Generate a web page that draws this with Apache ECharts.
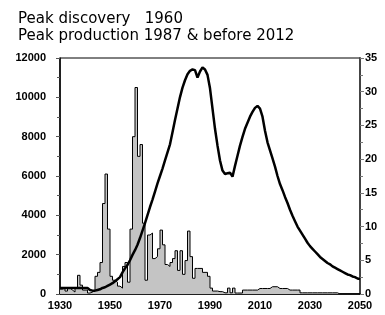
<!DOCTYPE html>
<html>
<head>
<meta charset="utf-8">
<script src="https://cdn.jsdelivr.net/npm/echarts@6/dist/echarts.min.js"></script>
<style>
	html, body { margin: 0; padding: 0; background: #ffffff; }
	#main { width: 385px; height: 315px; }
</style>
</head>
<body>
<div id="main"></div>
<script>
	// years on the x axis, 1930 .. 2050
	var years = [];
	for (var y = 1930; y <= 2050; y++) years.push(String(y));

	// discoveries per year (left axis)
	var discovery = [
		250, 300, 150, 300, 200, 100, 300, 950, 450, 200,
		200, 50, 100, 200, 900, 1100, 1600, 4600, 6100, 3300,
		900, 700, 600, 400, 300, 1400, 1600, 600, 3300, 8000,
		10500, 7000, 7600, 3600, 700, 3000, 3100, 1800, 1900, 2300,
		3250, 2500, 1500, 1400, 1600, 1800, 2200, 1200, 2200, 1000,
		1700, 3200, 1900, 800, 1300, 1300, 1300, 1100, 1100, 900,
		300, 150, 150, 120, 120, 60, 60, 300, 60, 300,
		50, 50, 50, 200, 200, 200, 200, 200, 200, 280,
		280, 280, 280, 280, 370, 370, 370, 280, 280, 280,
		280, 200, 200, 200, 200, 200, 60, 60, 60, 60,
		60, 60, 60, 60, 60, 60, 60, 60, 60, 60,
		60, 0, 0, 0, 0, 0, 0, 0, 0, 0, 0
	]

	// production per year (right axis)
	var production = [
		0.9, 0.9, 0.9, 0.9, 0.9, 0.9, 0.9, 0.9, 0.9, 0.9,
		0.9, 0.9, 0.6, 0.5, 0.5, 0.6, 0.7, 0.9, 1.0, 1.2,
		1.4, 1.6, 1.9, 2.2, 2.5, 3.2, 3.8, 4.3, 5.0, 5.8,
		6.5, 7.3, 8.3, 9.4, 10.5, 11.7, 12.9, 14.0, 15.2, 16.4,
		17.5, 18.6, 19.8, 21.0, 22.2, 24.0, 25.8, 27.5, 29.2, 30.6,
		31.7, 32.6, 33.1, 33.3, 33.2, 32.1, 33.0, 33.6, 33.3, 32.5,
		30.5, 27.5, 24.5, 22.0, 19.8, 18.3, 17.8, 17.9, 18.0, 17.4,
		19.0, 20.5, 22.0, 23.3, 24.5, 25.4, 26.3, 27.0, 27.6, 27.9,
		27.5, 26.3, 24.2, 22.5, 21.3, 20.1, 18.9, 17.5, 16.3, 15.4,
		14.4, 13.5, 12.5, 11.6, 10.8, 10.0, 9.4, 8.8, 8.2, 7.6,
		7.1, 6.7, 6.3, 5.9, 5.5, 5.2, 4.9, 4.6, 4.4, 4.1,
		3.9, 3.7, 3.5, 3.3, 3.1, 2.9, 2.8, 2.6, 2.5, 2.3, 2.2
	]

	var labelFont = {
		color: '#000',
		fontFamily: 'Liberation Sans',
		fontWeight: 'bold',
		fontSize: 11
	}

	var chart = echarts.init(document.getElementById('main'))
	chart.setOption({
		animation: false,
		title: {
			text: 'Peak discovery   1960\nPeak production 1987 & before 2012',
			left: 13,
			top: 6,
			textStyle: {
				color: '#000',
				fontFamily: 'DejaVu Sans',
				fontWeight: 'normal',
				fontSize: 15,
				lineHeight: 17
			}
		},
		grid: {
			left: 60,
			right: 25,
			top: 58,
			bottom: 21,
			show: true,
			borderColor: '#000',
			borderWidth: 1
		},
		xAxis: {
			type: 'category',
			data: years,
			boundaryGap: false,
			axisLine: { lineStyle: { color: '#000', width: 1.5 } },
			axisTick: { show: false },
			axisLabel: Object.assign({
				margin: 6,
				interval: function (i, v) { return Number(v) % 20 === 10 }
			}, labelFont)
		},
		yAxis: [{
			type: 'value',
			min: 0,
			max: 12000,
			interval: 2000,
			splitLine: { show: false },
			axisLine: { show: true, lineStyle: { color: '#000', width: 1.5 } },
			axisTick: { show: true, length: 4, lineStyle: { color: '#555' } },
			minorTick: { show: true, splitNumber: 2, length: 3, lineStyle: { color: '#555' } },
			axisLabel: Object.assign({ margin: 14, formatter: function (v) { return String(v) } }, labelFont)
		}, {
			type: 'value',
			min: 0,
			max: 35,
			interval: 5,
			position: 'right',
			splitLine: { show: false },
			axisLine: { show: true, lineStyle: { color: '#444', width: 2 } },
			axisTick: { show: true, length: 4, lineStyle: { color: '#777' } },
			minorTick: { show: true, splitNumber: 2, length: 3, lineStyle: { color: '#777' } },
			axisLabel: Object.assign({ margin: 5 }, labelFont)
		}],
		series: [{
			name: 'discovery',
			type: 'line',
			step: 'end',
			yAxisIndex: 0,
			data: discovery,
			symbol: 'none',
			lineStyle: { color: '#000', width: 1 },
			areaStyle: { color: '#c4c4c4', opacity: 1 },
			z: 2
		}, {
			name: 'production',
			type: 'line',
			yAxisIndex: 1,
			data: production,
			symbol: 'none',
			lineStyle: { color: '#000', width: 2.5 },
			z: 3
		}]
	})
</script>
</body>
</html>
